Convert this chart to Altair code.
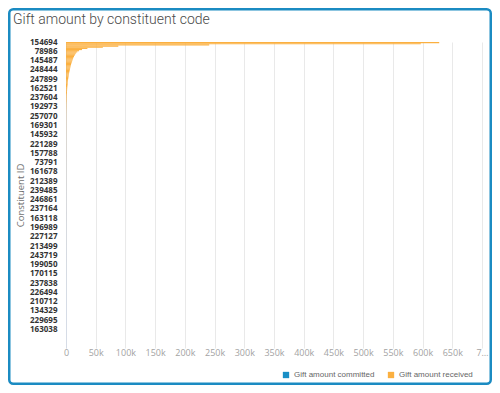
import altair as alt
import pandas as pd
import json

# Constituent IDs shown on the y axis (every 8th row is labelled)
labeled_ids = ["154694", "78986", "145487", "248444", "247899", "162521", "237604",
               "192973", "257070", "169301", "145932", "221289", "157788", "73791",
               "161678", "212389", "239485", "246861", "237164", "163118", "196989",
               "227127", "213499", "243719", "199050", "170115", "237838", "226494",
               "210712", "134329", "229695", "163038"]

# Gift amount received per constituent row (sorted descending)
received_head = [628000, 597000, 241000, 88000, 62000, 36000, 27000, 22000, 19000, 17000,
                 15500, 14500, 13500, 12500, 11800, 11000, 10300, 9600, 9000, 8500,
                 8000, 7500, 7000, 6600, 6200, 5800, 5400, 5000, 4700, 4400,
                 4100, 3800, 3500, 3300, 3100, 2900, 2700, 2500, 2300, 2150,
                 2000, 1850, 1700, 1550, 1400, 1300, 1200, 1100, 1000, 920,
                 850, 780, 720, 660, 600, 560, 520, 480, 440, 400, 370]
received_tail = [340, 330, 320, 310, 300, 295, 290, 285, 280, 275,
                 270, 265, 260, 255, 250, 245, 240, 235, 230, 225,
                 220, 215, 210, 205, 200, 200, 195, 195, 190, 190,
                 185, 185, 180, 180, 175, 175, 170, 170, 165, 165,
                 160, 160, 155, 155, 150, 150, 150, 145, 145, 145,
                 140, 140, 140, 135, 135, 135, 130, 130, 130, 125,
                 125, 125, 120, 120, 120, 115, 115, 115, 110, 110,
                 110, 105, 105, 105, 100, 100, 100, 100, 95, 95,
                 95, 95, 90, 90, 90, 90, 85, 85, 85, 85,
                 80, 80, 80, 80, 75, 75, 75, 75, 70, 70,
                 70, 70, 65, 65, 65, 65, 60, 60, 60, 60,
                 55, 55, 55, 55, 50, 50, 50, 50, 50, 45,
                 45, 45, 45, 45, 40, 40, 40, 40, 40, 35,
                 35, 35, 35, 35, 30, 30, 30, 30, 30, 25,
                 25, 25, 25, 25, 25, 20, 20, 20, 20, 20,
                 20, 15, 15, 15, 15, 15, 15, 10, 10, 10,
                 10, 10, 10, 10, 5, 5, 5, 5, 5, 5,
                 5, 5, 5, 5, 5, 5, 5, 5, 5, 5,
                 5, 5, 5, 5, 5, 5, 5, 5, 5, 5,
                 5, 5, 5, 5, 5, 5, 5, 5, 5, 5,
                 5, 5, 5]
received = received_head + received_tail

series_names = ["Gift amount committed", "Gift amount received"]
series_colors = ["#1a8fc6", "#fbb040"]
x_ticks = [0, 50000, 100000, 150000, 200000, 250000, 300000, 350000,
           400000, 450000, 500000, 550000, 600000, 650000, 700000]

df = pd.DataFrame({
    "row": list(range(len(received))),
    "amount": received,
    "series": ["Gift amount received"] * len(received),
})

ids_js = json.dumps(labeled_ids).replace('"', "'")
y_label_expr = f"datum.value % 8 == 0 ? ({ids_js})[datum.value / 8] : ''"
x_label_expr = ("datum.value == 0 ? '0' : (datum.value == 700000 ? '7…' : "
                "(datum.value / 1000) + 'k')")

W, H = 416, 306
PAD = {"left": 58, "top": 34, "right": 10, "bottom": 37}

bars = alt.Chart(df).mark_bar(strokeWidth=0).encode(
    x=alt.X("amount:Q",
            scale=alt.Scale(domain=[0, 700000], nice=False),
            axis=alt.Axis(values=x_ticks, labelExpr=x_label_expr, title=None,
                          domain=False, ticks=False, grid=True, gridColor="#e9e9e9",
                          labelFont="Open Sans", labelFontSize=9, labelColor="#a3a3a3",
                          labelPadding=0, labelFlush=False)),
    y=alt.Y("row:O",
            scale=alt.Scale(paddingInner=0, paddingOuter=0),
            axis=alt.Axis(labelExpr=y_label_expr, labelOverlap=False, ticks=False,
                          domain=True, domainColor="#d6dce6", grid=False,
                          labelFont="Open Sans", labelFontWeight="bold", labelFontSize=8,
                          labelColor="#333333", labelPadding=9,
                          title="Constituent ID", titleFont="Open Sans",
                          titleFontSize=9.5, titleFontWeight="normal", titleColor="#6f6f6f",
                          titleX=-41)),
    color=alt.Color("series:N",
                    scale=alt.Scale(domain=series_names, range=series_colors),
                    legend=alt.Legend(title=None, orient="none", direction="horizontal",
                                      legendX=216, legendY=329,
                                      symbolType="square", symbolSize=40, symbolStrokeWidth=0,
                                      labelFont="Liberation Sans", labelFontSize=8,
                                      labelColor="#666666", columnPadding=12,
                                      labelLimit=200)),
)

frame = alt.Chart(alt.Data(values=[{}])).mark_rect(
    filled=False, stroke="#1b8bc2", strokeWidth=2.5, cornerRadius=4
).encode(
    x=alt.value(-56.75), x2=alt.value(W + PAD["right"] - 1.25),
    y=alt.value(-32.75), y2=alt.value(H + PAD["bottom"] - 1.25),
)

chart = alt.layer(bars, frame).properties(
    width=W, height=H,
    autosize=alt.AutoSizeParams(type="none"),
    padding=PAD,
    title=alt.TitleParams("Gift amount by constituent code", anchor="start",
                          frame="group", orient="top", offset=0, baseline="alphabetic",
                          dx=-53, dy=30, font="Roboto", fontSize=14,
                          fontWeight=300, color="#4a4a4a"),
).configure_view(strokeWidth=0)

chart.save("out.html", embed_options={"renderer": "svg", "actions": False})
